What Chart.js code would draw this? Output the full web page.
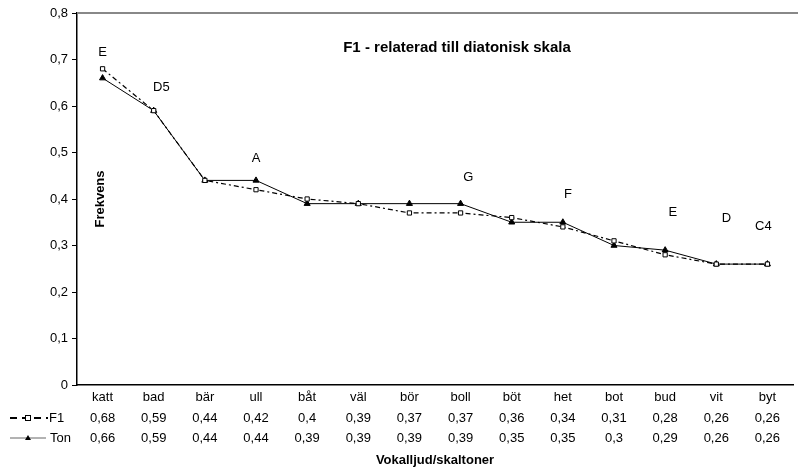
<!DOCTYPE html>
<html>
<head>
<meta charset="utf-8">
<script src="https://cdn.jsdelivr.net/npm/chart.js@4/dist/chart.umd.min.js"></script>
<style>
  html, body { margin: 0; padding: 0; background: #fff; }
  #wrap { width: 798px; height: 468px; }
</style>
</head>
<body>
<div id="wrap"><canvas id="chart"></canvas></div>
<script>
// kategorier och serier
const vowels = ['katt', 'bad', 'bär', 'ull', 'båt', 'väl', 'bör', 'boll', 'böt', 'het', 'bot', 'bud', 'vit', 'byt'];
const f1Values = [0.68, 0.59, 0.44, 0.42, 0.4, 0.39, 0.37, 0.37, 0.36, 0.34, 0.31, 0.28, 0.26, 0.26];
const tonValues = [0.66, 0.59, 0.44, 0.44, 0.39, 0.39, 0.39, 0.39, 0.35, 0.35, 0.3, 0.29, 0.26, 0.26];
const yTicks = [0, 0.1, 0.2, 0.3, 0.4, 0.5, 0.6, 0.7, 0.8];

// tonnamn ovanför kurvan (kategoriindex, värde)
const noteNames = ['E', 'D5', 'A', 'G', 'F', 'E', 'D', 'C4'];
const notePos = [0, 1.15, 3, 7.15, 9.1, 11.15, 12.2, 12.92];
const noteLevel = [0.716, 0.639, 0.487, 0.447, 0.409, 0.372, 0.359, 0.342];

const FONT = '"Liberation Sans", Arial, sans-serif';
const fmt = v => String(v).replace('.', ',');

// egna ritningar: titel, axeltext, tonnamn, datatabell
const extras = {
  id: 'extras',
  afterDraw(chart) {
    const ctx = chart.ctx;
    const x = chart.scales.x, y = chart.scales.y;
    const area = chart.chartArea;
    ctx.save();
    ctx.fillStyle = '#000';
    ctx.textAlign = 'center';
    ctx.textBaseline = 'middle';

    ctx.font = 'bold 15px ' + FONT;
    ctx.fillText('F1 - relaterad till diatonisk skala', 457, 48);

    ctx.save();
    ctx.translate(100, 199);
    ctx.rotate(-Math.PI / 2);
    ctx.font = 'bold 13px ' + FONT;
    ctx.fillText('Frekvens', 0, 0);
    ctx.restore();

    const p0 = x.getPixelForValue(0), p1 = x.getPixelForValue(1);
    ctx.font = '13px ' + FONT;
    noteNames.forEach((n, i) => {
      ctx.fillText(n, p0 + notePos[i] * (p1 - p0), y.getPixelForValue(noteLevel[i]));
    });

    // tabellrader
    vowels.forEach((v, i) => {
      const px = x.getPixelForValue(i);
      ctx.fillText(fmt(f1Values[i]), px, 418);
      ctx.fillText(fmt(tonValues[i]), px, 438);
    });

    // förklaringar
    ctx.textAlign = 'left';
    ctx.fillText('F1', 49, 418);
    ctx.fillText('Ton', 50, 438);
    ctx.strokeStyle = '#000';
    ctx.lineWidth = 2;
    ctx.setLineDash([7, 5]);
    ctx.beginPath(); ctx.moveTo(10, 418); ctx.lineTo(48, 418); ctx.stroke();
    ctx.setLineDash([]);
    ctx.fillStyle = '#fff';
    ctx.lineWidth = 1;
    ctx.fillRect(25.5, 415.5, 5, 5);
    ctx.strokeRect(25.5, 415.5, 5, 5);
    ctx.strokeStyle = '#666';
    ctx.beginPath(); ctx.moveTo(10, 438); ctx.lineTo(46, 438); ctx.stroke();
    ctx.fillStyle = '#000';
    ctx.beginPath(); ctx.moveTo(28, 435); ctx.lineTo(31, 440); ctx.lineTo(25, 440); ctx.closePath(); ctx.fill();

    ctx.textAlign = 'center';
    ctx.font = 'bold 13px ' + FONT;
    ctx.fillText('Vokalljud/skaltoner', (area.left + area.right) / 2, 460);

    // övre ram
    ctx.strokeStyle = '#888';
    ctx.lineWidth = 2;
    ctx.beginPath(); ctx.moveTo(area.left, area.top); ctx.lineTo(798, area.top); ctx.stroke();
    ctx.restore();
  }
};

new Chart(document.getElementById('chart'), {
  type: 'line',
  data: {
    labels: vowels,
    datasets: [
      {
        label: 'F1',
        data: f1Values,
        borderColor: '#000',
        borderWidth: 1.2,
        borderDash: [5, 3, 2, 3],
        pointStyle: 'rect',
        pointRadius: 3,
        pointBackgroundColor: '#fff',
        pointBorderColor: '#000',
        pointBorderWidth: 1,
        tension: 0
      },
      {
        label: 'Ton',
        data: tonValues,
        borderColor: '#000',
        borderWidth: 1,
        pointStyle: 'triangle',
        pointRadius: 3.5,
        pointBackgroundColor: '#000',
        pointBorderColor: '#000',
        tension: 0
      }
    ]
  },
  options: {
    responsive: true,
    maintainAspectRatio: false,
    animation: false,
    layout: { padding: { top: 13, right: 1, left: 0, bottom: 0 } },
    plugins: { legend: { display: false }, tooltip: { enabled: false } },
    scales: {
      x: {
        offset: true,
        grid: { display: false, drawTicks: false, offset: true },
        border: { color: '#000', width: 1.5 },
        ticks: { color: '#000', font: { family: FONT, size: 13 }, padding: 5, maxRotation: 0, autoSkip: false },
        afterFit(s) { s.height = 83; }
      },
      y: {
        min: 0,
        max: 0.8,
        afterBuildTicks(s) { s.ticks = yTicks.map(v => ({ value: v })); },
        grid: { drawOnChartArea: false, tickLength: 5, color: '#000' },
        border: { color: '#000', width: 1.5 },
        ticks: { color: '#000', font: { family: FONT, size: 13 }, padding: 4, callback: v => fmt(v) },
        afterFit(s) { s.width = 77; }
      }
    }
  },
  plugins: [extras]
});
</script>
</body>
</html>
